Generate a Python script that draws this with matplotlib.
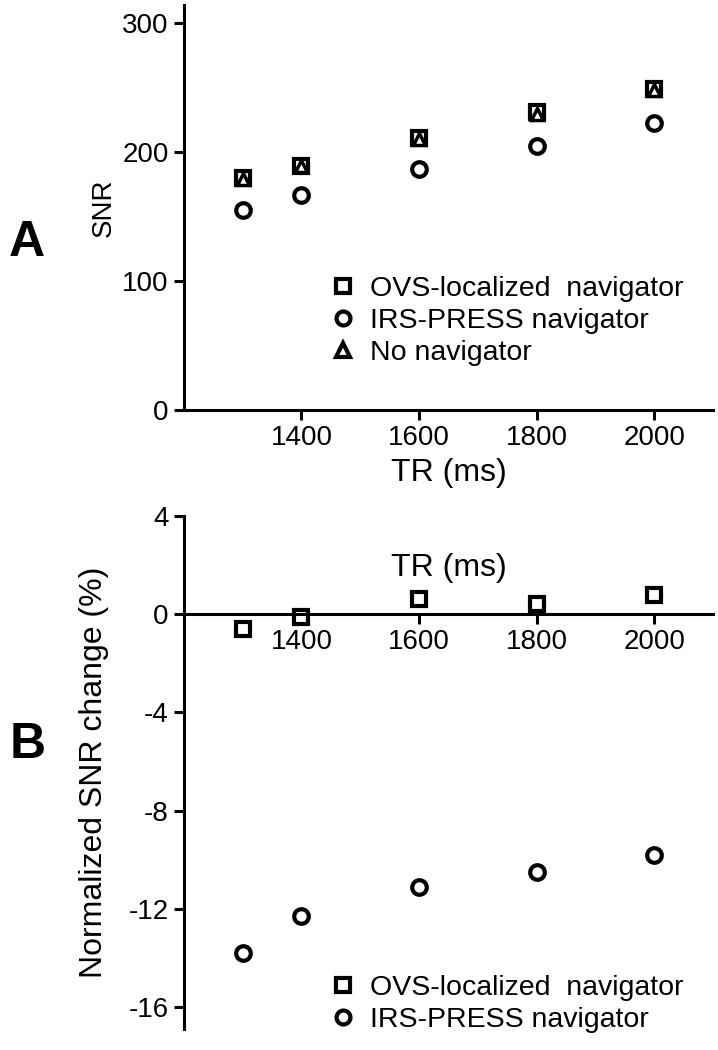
import matplotlib
matplotlib.use('Agg')
import matplotlib.pyplot as plt
from matplotlib.lines import Line2D

plt.rcParams['font.family'] = ['Liberation Sans', 'DejaVu Sans']

tr = [1300, 1400, 1600, 1800, 2000]

# panel A: SNR
snr_ovs = [180, 189, 211, 231, 249]
snr_irs = [155, 167, 187, 205, 223]
snr_none = [179, 189, 210, 230, 248]

# panel B: normalized SNR change (%)
chg_ovs = [-0.6, -0.1, 0.6, 0.4, 0.8]
chg_irs = [-13.8, -12.3, -11.1, -10.5, -9.8]

lab_ovs = 'OVS-localized  navigator'
lab_irs = 'IRS-PRESS navigator'
lab_none = 'No navigator'

fig = plt.figure(figsize=(7.18, 10.5), dpi=100)
axA = fig.add_axes([0.256, 0.6095, 0.737, 0.3855])
axB = fig.add_axes([0.256, 0.02, 0.737, 0.4886])

sq = dict(marker='s', ms=10, mfc='white', mec='black', mew=3, ls='none')
ci = dict(marker='o', ms=10.5, mfc='white', mec='black', mew=3, ls='none')
tri = dict(marker='^', ms=8, mfc='white', mec='black', mew=2.5, ls='none')

axA.plot(tr, snr_irs, **ci)
axA.plot(tr, snr_ovs, **sq)
axA.plot(tr, snr_none, **tri)

axB.plot(tr, chg_ovs, **sq)
axB.plot(tr, chg_irs, **ci)

for ax in (axA, axB):
    ax.set_xlim(1200, 2100)
    ax.set_xticks([1400, 1600, 1800, 2000])
    for s in ('top', 'right'):
        ax.spines[s].set_visible(False)
    for s in ('left', 'bottom'):
        ax.spines[s].set_linewidth(2.2)
    ax.tick_params(width=2.2, length=7, labelsize=20, direction='out', pad=4)

axA.set_ylim(0, 314)
axA.set_yticks([0, 100, 200, 300])
axA.set_ylabel('SNR', fontsize=20, labelpad=4)
axA.set_xlabel('TR (ms)', fontsize=23, labelpad=5)

axB.set_ylim(-16.9, 4)
axB.set_yticks([4, 0, -4, -8, -12, -16])
axB.set_yticklabels(['4', '0', '-4', '-8', '-12', '-16'])
axB.spines['bottom'].set_position(('data', 0))
axB.set_ylabel('Normalized SNR change (%)', fontsize=23, labelpad=14)
axB.text(1650, 1.9, 'TR (ms)', fontsize=23, ha='center', va='center')

h_sq = Line2D([], [], **{**sq, 'ms': 10})
h_ci = Line2D([], [], **{**ci, 'ms': 10})
h_tri = Line2D([], [], **{**tri, 'ms': 10, 'mew': 3})

leg_kw = dict(loc='upper left', frameon=False, fontsize=20.5, handletextpad=0.45,
              handlelength=1.0, labelspacing=0.2, borderpad=0, borderaxespad=0,
              bbox_transform=fig.transFigure)
axA.legend([h_sq, h_ci, h_tri], [lab_ovs, lab_irs, lab_none],
           bbox_to_anchor=(0.458, 0.737), **leg_kw)
axB.legend([h_sq, h_ci], [lab_ovs, lab_irs],
           bbox_to_anchor=(0.458, 0.071), **leg_kw)

fig.text(0.038, 0.769, 'A', fontsize=36, fontweight='bold', ha='center', va='center')
fig.text(0.038, 0.29, 'B', fontsize=36, fontweight='bold', ha='center', va='center')

fig.savefig('out.png', dpi=100)
